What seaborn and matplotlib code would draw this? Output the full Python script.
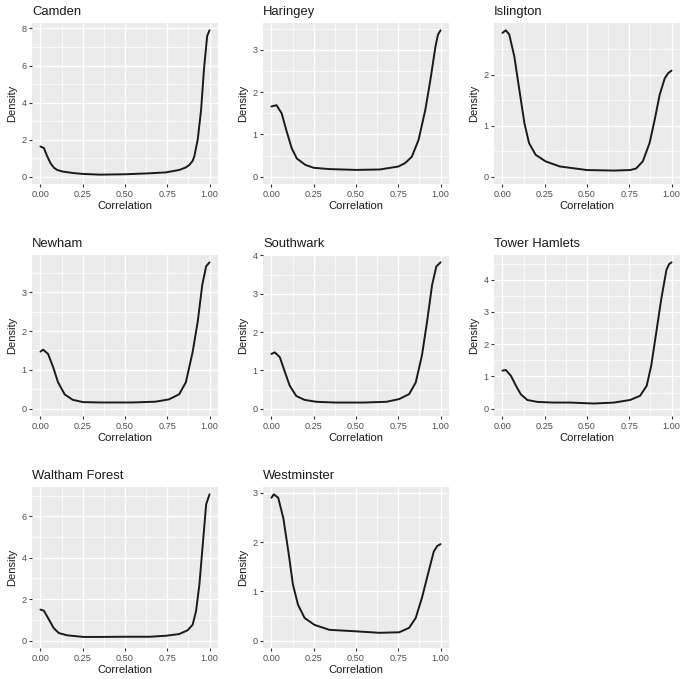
import numpy as np
import pandas as pd
import matplotlib
matplotlib.use("Agg")
import matplotlib.pyplot as plt
from matplotlib.ticker import FixedLocator
import seaborn as sns

boroughs = ["Camden", "Haringey", "Islington", "Newham", "Southwark",
            "Tower Hamlets", "Waltham Forest", "Westminster"]

# density curves (x = correlation, y = density)
camden_x = [0.0, 0.02, 0.04, 0.06, 0.08, 0.10, 0.13, 0.16, 0.20, 0.25, 0.35, 0.50, 0.64, 0.74, 0.82, 0.86, 0.88, 0.90, 0.91, 0.93, 0.95, 0.967, 0.986, 1.0]
camden_y = [1.63, 1.55, 1.1, 0.72, 0.48, 0.36, 0.28, 0.24, 0.19, 0.15, 0.11, 0.13, 0.18, 0.23, 0.36, 0.50, 0.63, 0.85, 1.1, 2.0, 3.6, 5.8, 7.6, 7.9]

haringey_x = [0.0, 0.03, 0.06, 0.09, 0.12, 0.15, 0.20, 0.25, 0.34, 0.50, 0.64, 0.75, 0.79, 0.83, 0.87, 0.91, 0.94, 0.97, 0.985, 1.0]
haringey_y = [1.66, 1.69, 1.50, 1.07, 0.67, 0.43, 0.28, 0.21, 0.18, 0.16, 0.17, 0.24, 0.32, 0.47, 0.87, 1.58, 2.29, 3.08, 3.36, 3.46]

islington_x = [0.0, 0.02, 0.04, 0.07, 0.10, 0.13, 0.157, 0.196, 0.255, 0.34, 0.50, 0.66, 0.755, 0.79, 0.83, 0.87, 0.90, 0.93, 0.96, 0.98, 1.0]
islington_y = [2.82, 2.87, 2.79, 2.36, 1.70, 1.05, 0.66, 0.43, 0.30, 0.20, 0.13, 0.12, 0.13, 0.16, 0.30, 0.66, 1.11, 1.61, 1.93, 2.03, 2.08]

newham_x = [0.0, 0.016, 0.045, 0.075, 0.104, 0.143, 0.19, 0.25, 0.35, 0.545, 0.68, 0.76, 0.82, 0.86, 0.90, 0.93, 0.957, 0.98, 1.0]
newham_y = [1.47, 1.52, 1.41, 1.07, 0.68, 0.37, 0.23, 0.17, 0.16, 0.16, 0.18, 0.24, 0.37, 0.68, 1.46, 2.24, 3.19, 3.67, 3.77]

southwark_x = [0.0, 0.02, 0.05, 0.08, 0.108, 0.147, 0.196, 0.265, 0.38, 0.54, 0.68, 0.755, 0.814, 0.853, 0.89, 0.92, 0.95, 0.975, 1.0]
southwark_y = [1.43, 1.47, 1.34, 0.95, 0.60, 0.33, 0.23, 0.18, 0.16, 0.16, 0.18, 0.25, 0.38, 0.68, 1.39, 2.26, 3.23, 3.71, 3.82]

tower_x = [0.0, 0.02, 0.05, 0.08, 0.108, 0.147, 0.206, 0.30, 0.40, 0.54, 0.66, 0.755, 0.814, 0.853, 0.88, 0.91, 0.94, 0.97, 0.985, 1.0]
tower_y = [1.18, 1.20, 1.02, 0.71, 0.45, 0.27, 0.21, 0.19, 0.19, 0.16, 0.19, 0.27, 0.40, 0.71, 1.34, 2.38, 3.43, 4.31, 4.48, 4.54]

waltham_x = [0.0, 0.02, 0.05, 0.078, 0.108, 0.157, 0.255, 0.35, 0.50, 0.647, 0.745, 0.82, 0.87, 0.90, 0.92, 0.94, 0.96, 0.98, 1.0]
waltham_y = [1.50, 1.45, 1.02, 0.61, 0.37, 0.26, 0.18, 0.18, 0.19, 0.19, 0.24, 0.32, 0.50, 0.77, 1.42, 2.71, 4.65, 6.58, 7.06]

westminster_x = [0.0, 0.014, 0.04, 0.07, 0.10, 0.127, 0.157, 0.196, 0.255, 0.343, 0.50, 0.637, 0.755, 0.814, 0.853, 0.89, 0.93, 0.96, 0.98, 1.0]
westminster_y = [2.90, 2.97, 2.90, 2.49, 1.81, 1.14, 0.73, 0.46, 0.32, 0.22, 0.19, 0.16, 0.17, 0.26, 0.46, 0.87, 1.41, 1.81, 1.92, 1.96]

curves_x = [camden_x, haringey_x, islington_x, newham_x, southwark_x,
            tower_x, waltham_x, westminster_x]
curves_y = [camden_y, haringey_y, islington_y, newham_y, southwark_y,
            tower_y, waltham_y, westminster_y]

x_ticks = [0.0, 0.25, 0.5, 0.75, 1.0]
x_tick_labels = ["0.00", "0.25", "0.50", "0.75", "1.00"]
y_ticks = [
    [0, 2, 4, 6, 8],
    [0, 1, 2, 3],
    [0, 1, 2],
    [0, 1, 2, 3],
    [0, 1, 2, 3, 4],
    [0, 1, 2, 3, 4],
    [0, 2, 4, 6],
    [0, 1, 2, 3],
]

sns.set_theme(style="darkgrid", rc={
    "axes.facecolor": "#EBEBEB",
    "grid.color": "white",
    "axes.edgecolor": "white",
})
plt.rcParams["font.family"] = ["Liberation Sans", "DejaVu Sans"]

W, H = 685, 679
fig = plt.figure(figsize=(W / 100, H / 100), dpi=100)

col_left = [32, 263, 494]
row_top = [23, 255, 487]
pw, ph = 186, 161

for i, name in enumerate(boroughs):
    r, c = divmod(i, 3)
    ax = fig.add_axes([col_left[c] / W, 1 - (row_top[r] + ph) / H, pw / W, ph / H])
    df = pd.DataFrame({"Correlation": curves_x[i], "Density": curves_y[i]})
    sns.lineplot(data=df, x="Correlation", y="Density", ax=ax,
                 color="#1a1a1a", linewidth=1.4, sort=False,
                 solid_joinstyle="round", solid_capstyle="round")
    ymax = max(curves_y[i])
    ax.set_ylim(-0.05 * ymax, 1.05 * ymax)
    ax.set_xlim(-0.05, 1.05)
    ax.set_xticks(x_ticks)
    ax.set_xticklabels(x_tick_labels)
    yt = y_ticks[i]
    ax.set_yticks(yt)
    ax.set_yticklabels([str(v) for v in yt])
    xm = [(a + b) / 2 for a, b in zip(x_ticks[:-1], x_ticks[1:])]
    step = yt[1] - yt[0]
    ym = [v + step / 2 for v in yt]
    ax.xaxis.set_minor_locator(FixedLocator(xm))
    ax.yaxis.set_minor_locator(FixedLocator(ym))
    ax.grid(which="major", color="white", linewidth=1.0)
    ax.grid(which="minor", color="white", linewidth=0.5)
    ax.tick_params(which="major", length=2.5, width=0.8, color="#333333",
                   labelsize=6.6, labelcolor="#4D4D4D", pad=1.5,
                   bottom=True, left=True)
    ax.tick_params(which="minor", length=0)
    for s in ax.spines.values():
        s.set_visible(False)
    ax.set_xlabel("Correlation", fontsize=8.0, color="#1a1a1a", labelpad=2)
    ax.set_ylabel("Density", fontsize=8.0, color="#1a1a1a", labelpad=3)
    ax.set_title(name, loc="left", fontsize=9.4, color="#1a1a1a", pad=6)

fig.savefig("out.png", dpi=100, facecolor="white")
